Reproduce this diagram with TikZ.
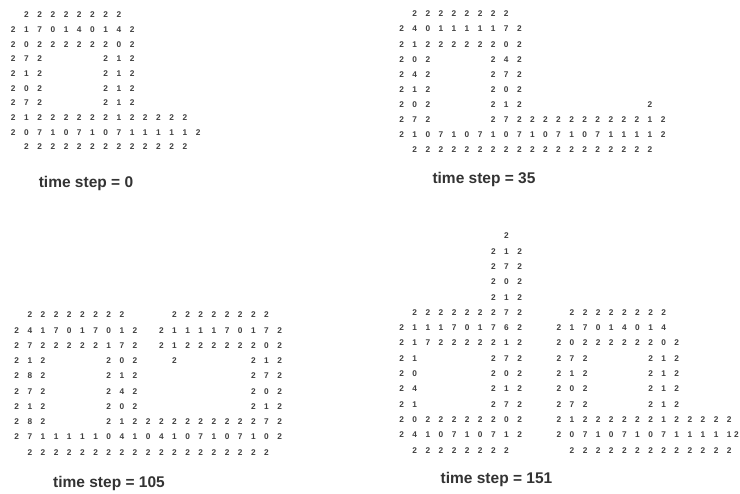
\documentclass[tikz,border=0pt]{standalone}
\usepackage{fontspec}
\setmainfont{Liberation Sans}
\newcount\colcnt
\def\gridend{gridend-marker}
\def\gridrow#1#2#3#4#5{%
  \colcnt=0 \def\rowname{#1}\def\rowx{#2}\def\rowdx{#3}\def\rowy{#4}%
  \gridrowA#5\gridend}
\def\gridrowA#1{\ifx#1\gridend\let\gridnext\relax\else\def\cellchar{#1}\let\gridnext\gridcell\fi\gridnext}
\def\gridcell{\if.\cellchar\else\node[dig] (\rowname-\the\colcnt) at ({\rowx+\the\colcnt*\rowdx},\rowy) {\cellchar};\fi\advance\colcnt by 1 \gridrowA}
\begin{document}
\begin{tikzpicture}[x=1pt,y=-1pt,
  dig/.style={inner sep=0pt,text=black!75,font=\bfseries\fontsize{8.3}{8.3}\selectfont},
  caption/.style={inner sep=0pt,anchor=base,text=black!80,font=\bfseries\fontsize{15.5}{15.5}\selectfont}]
\useasboundingbox[fill=white] (0,0) rectangle (740,494);
% panel 1: time step 0
\def\px{13.3}\def\pdx{13.2}
\gridrow{a0}{\px}{\pdx}{15.0}{.22222222}
\gridrow{a1}{\px}{\pdx}{29.65}{2170140142}
\gridrow{a2}{\px}{\pdx}{44.3}{2022222202}
\gridrow{a3}{\px}{\pdx}{58.95}{272....212}
\gridrow{a4}{\px}{\pdx}{73.6}{212....212}
\gridrow{a5}{\px}{\pdx}{88.25}{202....212}
\gridrow{a6}{\px}{\pdx}{102.9}{272....212}
\gridrow{a7}{\px}{\pdx}{117.55}{21222222122222}
\gridrow{a8}{\px}{\pdx}{132.2}{207107107111112}
\gridrow{a9}{\px}{\pdx}{146.85}{.2222222222222}
\node[caption] (cap0) at (86,188) {time step = 0};
% panel 2: time step 35
\def\px{401.7}\def\pdx{13.07}
\gridrow{b0}{\px}{\pdx}{14.0}{.22222222}
\gridrow{b1}{\px}{\pdx}{29.1}{2401111172}
\gridrow{b2}{\px}{\pdx}{44.2}{2122222202}
\gridrow{b3}{\px}{\pdx}{59.3}{202....242}
\gridrow{b4}{\px}{\pdx}{74.4}{242....272}
\gridrow{b5}{\px}{\pdx}{89.5}{212....202}
\gridrow{b6}{\px}{\pdx}{104.6}{202....212.........2}
\gridrow{b7}{\px}{\pdx}{119.7}{272....27222222222212}
\gridrow{b8}{\px}{\pdx}{134.8}{210710710710710711112}
\gridrow{b9}{\px}{\pdx}{149.9}{.2222222222222222222}
\node[caption] (cap35) at (484,183.3) {time step = 35};
% panel 3: time step 105
\def\px{16.7}\def\pdx{13.15}
\gridrow{c0}{\px}{\pdx}{315.0}{.22222222...22222222}
\gridrow{c1}{\px}{\pdx}{330.25}{2417017012.2111170172}
\gridrow{c2}{\px}{\pdx}{345.5}{2722222172.2122222202}
\gridrow{c3}{\px}{\pdx}{360.75}{212....202..2.....212}
\gridrow{c4}{\px}{\pdx}{376.0}{282....212........272}
\gridrow{c5}{\px}{\pdx}{391.25}{272....242........202}
\gridrow{c6}{\px}{\pdx}{406.5}{212....202........212}
\gridrow{c7}{\px}{\pdx}{421.75}{282....21222222222272}
\gridrow{c8}{\px}{\pdx}{437.0}{271111104104107107102}
\gridrow{c9}{\px}{\pdx}{452.25}{.2222222222222222222}
\node[caption] (cap105) at (109,488) {time step = 105};
% panel 4: time step 151
\def\px{401.7}\def\pdx{13.1}
\gridrow{d0}{\px}{\pdx}{236.0}{........2}
\gridrow{d1}{\px}{\pdx}{251.3}{.......212}
\gridrow{d2}{\px}{\pdx}{266.6}{.......272}
\gridrow{d3}{\px}{\pdx}{281.9}{.......202}
\gridrow{d4}{\px}{\pdx}{297.2}{.......212}
\gridrow{d5}{\px}{\pdx}{312.5}{.222222272...22222222}
\gridrow{d6}{\px}{\pdx}{327.8}{2111701762..217014014}
\gridrow{d7}{\px}{\pdx}{343.1}{2172222212..2022222202}
\gridrow{d8}{\px}{\pdx}{358.4}{21.....272..272....212}
\gridrow{d9}{\px}{\pdx}{373.7}{20.....202..212....212}
\gridrow{d10}{\px}{\pdx}{389.0}{24.....212..202....212}
\gridrow{d11}{\px}{\pdx}{404.3}{21.....272..272....212}
\gridrow{d12}{\px}{\pdx}{419.6}{2022222202..21222222122222}
\gridrow{d13}{\px}{\pdx}{434.9}{2410710712..20710710711111}
\node[dig] (d13-26) at (736.5,434.9) {2};
\gridrow{d14}{\px}{\pdx}{450.2}{.22222222....2222222222222}
\node[caption] (cap151) at (496.5,484) {time step = 151};
\end{tikzpicture}
\end{document}
